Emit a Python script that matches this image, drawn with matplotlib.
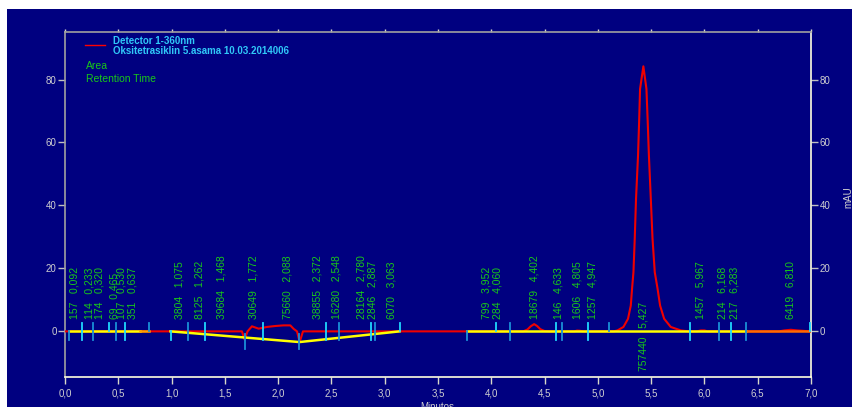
import matplotlib
matplotlib.use("Agg")
import matplotlib.pyplot as plt
from matplotlib.patches import Rectangle
from matplotlib.ticker import MultipleLocator, FuncFormatter

plt.rcParams['font.family'] = ['Liberation Sans', 'DejaVu Sans']

# detector signal, minutes / mAU
trace_t = [0.00, 1.660, 1.685, 1.713, 1.754, 1.817, 1.895, 1.973, 2.051, 2.114,
           2.145, 2.177, 2.202, 2.233, 4.300, 4.340, 4.370, 4.402, 4.430, 4.460,
           4.500, 4.550, 4.780, 4.805, 4.830, 4.860, 5.150, 5.184, 5.240, 5.283,
           5.309, 5.321, 5.334, 5.346, 5.358, 5.377, 5.387, 5.396, 5.427, 5.456,
           5.468, 5.479, 5.497, 5.513, 5.534, 5.560, 5.584, 5.622, 5.684, 5.778,
           5.850, 5.930, 5.967, 6.000, 6.030, 6.700, 6.750, 6.810, 6.870, 6.950,
           7.000]
trace_y = [0.0, 0.0, -2.6, 0.0, 1.6, 0.85, 1.4, 1.7, 1.9, 1.9,
           0.8, 0.0, -3.4, 0.0, 0.0, 0.6, 1.6, 2.3, 1.7, 0.7,
           0.1, 0.0, 0.0, 0.25, 0.2, 0.0, 0.0, 0.3, 1.4, 4.0,
           8.2, 13.6, 18.8, 29.4, 42.0, 55.9, 66.4, 77.0, 84.2, 77.0,
           66.4, 55.9, 42.0, 29.4, 18.8, 13.6, 8.2, 4.0, 1.4, 0.3,
           0.0, 0.0, 0.3, 0.3, 0.0, 0.0, 0.3, 0.5, 0.3, 0.1,
           0.0]

# integration report
peak_area = [157, 114, 174, 69, 107, 351, 3804, 8125, 39684, 30649, 75660,
             38855, 16280, 28164, 2846, 6070, 799, 284, 18679, 146, 1606,
             1257, 757440, 1457, 214, 217, 6419]
peak_rt = [0.092, 0.233, 0.320, 0.465, 0.530, 0.637, 1.075, 1.262, 1.468,
           1.772, 2.088, 2.372, 2.548, 2.780, 2.887, 3.063, 3.952, 4.060,
           4.402, 4.633, 4.805, 4.947, 5.427, 5.967, 6.168, 6.283, 6.810]

# peak start / end events
mark_t = [0.04, 0.157, 0.266, 0.417, 0.48, 0.56, 0.79, 0.99, 1.15, 1.31,
          1.685, 1.86, 2.20, 2.45, 2.57, 2.87, 2.91, 3.14, 3.774, 4.047,
          4.172, 4.611, 4.66, 4.907, 5.108, 5.86, 6.14, 6.25, 6.386, 6.99]
mark_kind = ['down', 'both', 'both', 'up', 'both', 'both', 'up', 'down', 'both', 'both',
             'deep', 'both', 'deep', 'both', 'both', 'both', 'both', 'up', 'down', 'up',
             'both', 'both', 'both', 'both', 'up', 'both', 'both', 'both', 'both', 'up']

# baselines
base1_t = [0.04, 0.70]
base1_y = [0.0, 0.0]
base1b_t = [0.70, 0.79]
base1b_y = [0.0, 0.0]
base2_t = [0.99, 2.20, 3.14]
base2_y = [0.0, -3.4, 0.0]
base3_t = [3.774, 6.386]
base3_y = [0.0, 0.0]
base4_t = [6.386, 6.99]
base4_y = [0.0, 0.0]

navy = '#000080'
fig = plt.figure(figsize=(8.53, 4.07), dpi=100, facecolor='white')
fig.patches.append(Rectangle((7 / 853, 0), 1 - 7 / 853, 398 / 407,
                             transform=fig.transFigure, facecolor=navy,
                             edgecolor='none', zorder=-10))
ax = fig.add_axes([65 / 853, 30 / 407, 746 / 853, 345 / 407])
ax.set_facecolor(navy)

ax.plot(trace_t, trace_y, color='#f00000', lw=1.5, zorder=3)
for bt, by, c in [(base1_t, base1_y, '#ffff00'), (base1b_t, base1b_y, '#ffa000'),
                  (base2_t, base2_y, '#ffff00'), (base3_t, base3_y, '#ffff00'),
                  (base4_t, base4_y, '#ff6a00')]:
    ax.plot(bt, by, color=c, lw=1.8, zorder=4)

tick_cols = ['#1a90d8', '#20d8ff']
for i, (t, k) in enumerate(zip(mark_t, mark_kind)):
    if k == 'up':
        lo, hi = 0.0, 2.7
    elif k == 'down':
        lo, hi = -2.8, 0.0
    elif k == 'deep':
        lo, hi = -5.6, -0.8
    else:
        lo, hi = -2.7, 2.7
    ax.plot([t, t], [lo, hi], color=tick_cols[i % 2], lw=1.3, zorder=5)

for a, rt in zip(peak_area, peak_rt):
    txt = f"{a}   {rt:.3f}".replace('.', ',')
    y0 = -12.6 if a == max(peak_area) else 3.8
    ax.text(rt, y0, txt, rotation=90, ha='center', va='bottom',
            color='#18c818', fontsize=7.5, zorder=6)

ax.set_xlim(0, 7)
ax.set_ylim(-14.5, 95.1)
ax.xaxis.set_major_locator(MultipleLocator(0.5))
ax.yaxis.set_major_locator(MultipleLocator(20))
ax.xaxis.set_major_formatter(FuncFormatter(lambda v, p: f"{v:.1f}".replace('.', ',')))
ax.yaxis.set_major_formatter(FuncFormatter(lambda v, p: f"{v:.0f}"))

ax.tick_params(axis='x', which='major', direction='out', length=5, width=1,
               color='#d8d8c8', labelcolor='#d0d0d0', labelsize=7, pad=3, top=True)
ax.tick_params(axis='y', which='major', direction='out', length=5, width=1,
               color='#c0c0c0', labelcolor='#d0d0d0', labelsize=7, pad=1,
               right=True, labelright=True)
for tk in ax.xaxis.get_major_ticks():
    tk.tick2line.set_markersize(2)
    tk.tick2line.set_color('#a0a0a0')

for side, col in [('left', '#a0a0a0'), ('top', '#a0a0a0'),
                  ('right', '#ffffe0'), ('bottom', '#ffffe0')]:
    ax.spines[side].set_color(col)
    ax.spines[side].set_linewidth(1.2)

# legend block
ax.plot([0.19, 0.38], [91.0, 91.0], color='#ff0000', lw=1, zorder=6)
ax.text(0.45, 92.3, 'Detector 1-360nm', color='#30c8f8', fontsize=7,
        fontweight='bold', va='center', ha='left')
ax.text(0.45, 89.0, 'Oksitetrasiklin 5.asama 10.03.2014006', color='#30c8f8',
        fontsize=7, fontweight='bold', va='center', ha='left')
ax.text(0.20, 84.3, 'Area', color='#18c818', fontsize=7.5, va='center', ha='left')
ax.text(0.20, 80.2, 'Retention Time', color='#18c818', fontsize=7.5,
        va='center', ha='left')

fig.text(437 / 853, 1 - 402 / 407, 'Minutos', color='#d0d0d0', fontsize=7,
         ha='center', va='top')
fig.text(848 / 853, 1 - 197 / 407, 'mAU', color='#d0d0d0', fontsize=7,
         ha='center', va='center', rotation=90)

fig.savefig('out.png', dpi=100, facecolor=fig.get_facecolor())
